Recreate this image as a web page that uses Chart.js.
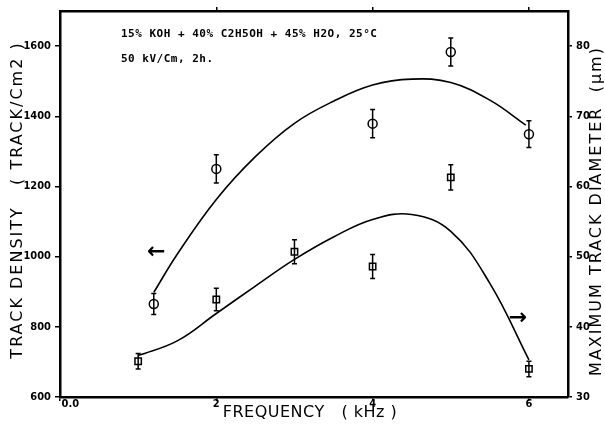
<!DOCTYPE html>
<html>
<head>
<meta charset="utf-8">
<title>Track density / diameter vs frequency</title>
<script src="https://cdn.jsdelivr.net/npm/chart.js@4.4.0/dist/chart.umd.min.js"></script>
<style>
    html, body { margin: 0; padding: 0; background: #fff; }
    #chart-box { width: 605px; height: 426px; }
</style>
</head>
<body>
<div id="chart-box"><canvas id="frequency-chart" width="605" height="426"></canvas></div>
<script>
// measured points (circles -> left axis, squares -> right axis)
const densityFreq = [1.2, 2, 4, 5, 6];
const densityValues = [865, 1250, 1379, 1583, 1349];
const densityErrors = [30, 40, 40, 40, 38];

const diameterFreq = [1, 2, 3, 4, 5, 6];
const diameterValues = [35.1, 43.9, 50.7, 48.6, 61.3, 34.0];
const diameterErrors = [1.1, 1.6, 1.7, 1.7, 1.8, 1.1];

// fitted curves
const densityFitFreq = [1.2, 1.5, 2.0, 2.5, 3.0, 3.5, 4.0, 4.5, 5.0, 5.5, 5.96];
const densityFitValues = [898, 1007, 1163, 1285, 1380, 1443, 1489, 1506, 1496, 1446, 1375];
const diameterFitFreq = [1.0, 1.5, 2.0, 2.5, 3.0, 3.5, 4.0, 4.5, 5.0, 5.5, 6.0];
const diameterFitValues = [35.9, 38.0, 41.9, 45.8, 49.6, 52.8, 55.3, 56.0, 53.6, 46.2, 35.3];

const freqTicks = [0, 2, 4, 6];
const topFreqTicks = [2, 4, 6];
const densityTicks = [600, 800, 1000, 1200, 1400, 1600];
const diameterTicks = [30, 40, 50, 60, 70, 80];

const noteLines = ['15% KOH + 40% C2H5OH + 45% H2O, 25°C', '50 kV/Cm, 2h.'];

function toPoints(xs, ys) {
    return xs.map((x, i) => ({ x: x, y: ys[i] }));
}

function fixedTicks(values) {
    return function(scale) {
        scale.ticks = values.map(v => ({ value: v }));
    };
}

const tickFont = { family: 'DejaVu Sans Condensed', weight: 'bold', size: 11 };

const errorBarPlugin = {
    id: 'errorBars',
    afterDatasetsDraw(chart) {
        const ctx = chart.ctx;
        chart.data.datasets.forEach((dataset, i) => {
            if (!dataset.errors) return;
            const meta = chart.getDatasetMeta(i);
            const scale = chart.scales[dataset.yAxisID];
            ctx.save();
            ctx.strokeStyle = '#000';
            ctx.lineWidth = 1.5;
            meta.data.forEach((point, j) => {
                const value = dataset.data[j].y;
                const top = scale.getPixelForValue(value + dataset.errors[j]);
                const bottom = scale.getPixelForValue(value - dataset.errors[j]);
                ctx.beginPath();
                ctx.moveTo(point.x, top);
                ctx.lineTo(point.x, bottom);
                ctx.moveTo(point.x - 2.5, top);
                ctx.lineTo(point.x + 2.5, top);
                ctx.moveTo(point.x - 2.5, bottom);
                ctx.lineTo(point.x + 2.5, bottom);
                ctx.stroke();
            });
            ctx.restore();
        });
    }
};

const labelPlugin = {
    id: 'plotLabels',
    afterDraw(chart) {
        const ctx = chart.ctx;
        const x = chart.scales.x;
        const y = chart.scales.y;
        const y2 = chart.scales.y2;
        ctx.save();
        ctx.fillStyle = '#000';

        // note in the upper left
        ctx.font = 'bold 11px "DejaVu Sans Mono"';
        ctx.textAlign = 'left';
        ctx.textBaseline = 'middle';
        ctx.letterSpacing = '0.5px';
        ctx.fillText(noteLines[0], x.getPixelForValue(0.78), y.getPixelForValue(1634));
        ctx.fillText(noteLines[1], x.getPixelForValue(0.78), y.getPixelForValue(1563));

        // arrows telling which axis each curve uses
        ctx.font = 'bold 22px "DejaVu Sans"';
        ctx.textAlign = 'center';
        ctx.letterSpacing = '0px';
        ctx.fillText('\u2190', x.getPixelForValue(1.23), y.getPixelForValue(1011));
        ctx.fillText('\u2192', x.getPixelForValue(5.86), y2.getPixelForValue(41.2));

        // axis titles
        ctx.font = '16px "DejaVu Sans"';
        ctx.letterSpacing = '0.5px';
        ctx.fillText('FREQUENCY   ( kHz )', 310, 413);

        ctx.letterSpacing = '2px';
        ctx.translate(18, 200);
        ctx.rotate(-Math.PI / 2);
        ctx.fillText('TRACK DENSITY   ( TRACK/Cm2 )', 0, 0);
        ctx.setTransform(1, 0, 0, 1, 0, 0);

        ctx.translate(597, 211);
        ctx.rotate(-Math.PI / 2);
        ctx.fillText('MAXIMUM TRACK DIAMETER  (\u03bcm)', 0, 0);
        ctx.restore();
    }
};

function axisGrid(len) {
    return { drawOnChartArea: false, color: '#000', lineWidth: 1.5, tickLength: len };
}

const axisBorder = { color: '#000', width: 2.5 };

document.addEventListener('DOMContentLoaded', function() {
    const ctx = document.getElementById('frequency-chart').getContext('2d');
    new Chart(ctx, {
        data: {
            datasets: [
                {
                    type: 'scatter',
                    data: toPoints(densityFreq, densityValues),
                    errors: densityErrors,
                    yAxisID: 'y',
                    pointStyle: 'circle',
                    pointRadius: 4.5,
                    borderColor: '#000',
                    backgroundColor: '#fff',
                    borderWidth: 1.5,
                    order: 1
                },
                {
                    type: 'scatter',
                    data: toPoints(diameterFreq, diameterValues),
                    errors: diameterErrors,
                    yAxisID: 'y2',
                    pointStyle: 'rect',
                    pointRadius: 4.5,
                    borderColor: '#000',
                    backgroundColor: '#fff',
                    borderWidth: 1.5,
                    order: 1
                },
                {
                    type: 'line',
                    data: toPoints(densityFitFreq, densityFitValues),
                    yAxisID: 'y',
                    borderColor: '#000',
                    borderWidth: 1.6,
                    pointRadius: 0,
                    tension: 0.4,
                    fill: false,
                    order: 2
                },
                {
                    type: 'line',
                    data: toPoints(diameterFitFreq, diameterFitValues),
                    yAxisID: 'y2',
                    borderColor: '#000',
                    borderWidth: 1.6,
                    pointRadius: 0,
                    tension: 0.4,
                    fill: false,
                    order: 2
                }
            ]
        },
        options: {
            responsive: false,
            animation: false,
            layout: { padding: 0 },
            plugins: { legend: { display: false }, tooltip: { enabled: false } },
            scales: {
                x: {
                    type: 'linear',
                    position: 'bottom',
                    min: 0,
                    max: 6.5,
                    afterBuildTicks: fixedTicks(freqTicks),
                    afterFit: scale => { scale.height = 29; },
                    grid: axisGrid(4),
                    border: axisBorder,
                    ticks: {
                        color: '#000',
                        font: tickFont,
                        padding: -3,
                        maxRotation: 0,
                        callback: v => (v === 0 ? '      0.0' : String(v))
                    }
                },
                x2: {
                    type: 'linear',
                    position: 'top',
                    min: 0,
                    max: 6.5,
                    afterBuildTicks: fixedTicks(topFreqTicks),
                    afterFit: scale => { scale.height = 11; },
                    grid: axisGrid(4),
                    border: axisBorder,
                    ticks: { display: false }
                },
                y: {
                    type: 'linear',
                    position: 'left',
                    min: 600,
                    max: 1700,
                    afterBuildTicks: fixedTicks(densityTicks),
                    afterFit: scale => { scale.width = 60; },
                    grid: axisGrid(5),
                    border: axisBorder,
                    ticks: { color: '#000', font: tickFont, padding: 4, callback: v => String(v) }
                },
                y2: {
                    type: 'linear',
                    position: 'right',
                    min: 30,
                    max: 85,
                    afterBuildTicks: fixedTicks(diameterTicks),
                    afterFit: scale => { scale.width = 37; },
                    grid: axisGrid(4),
                    border: axisBorder,
                    ticks: { color: '#000', font: tickFont, padding: 4, callback: v => String(v) }
                }
            }
        },
        plugins: [errorBarPlugin, labelPlugin]
    });
});
</script>
</body>
</html>
